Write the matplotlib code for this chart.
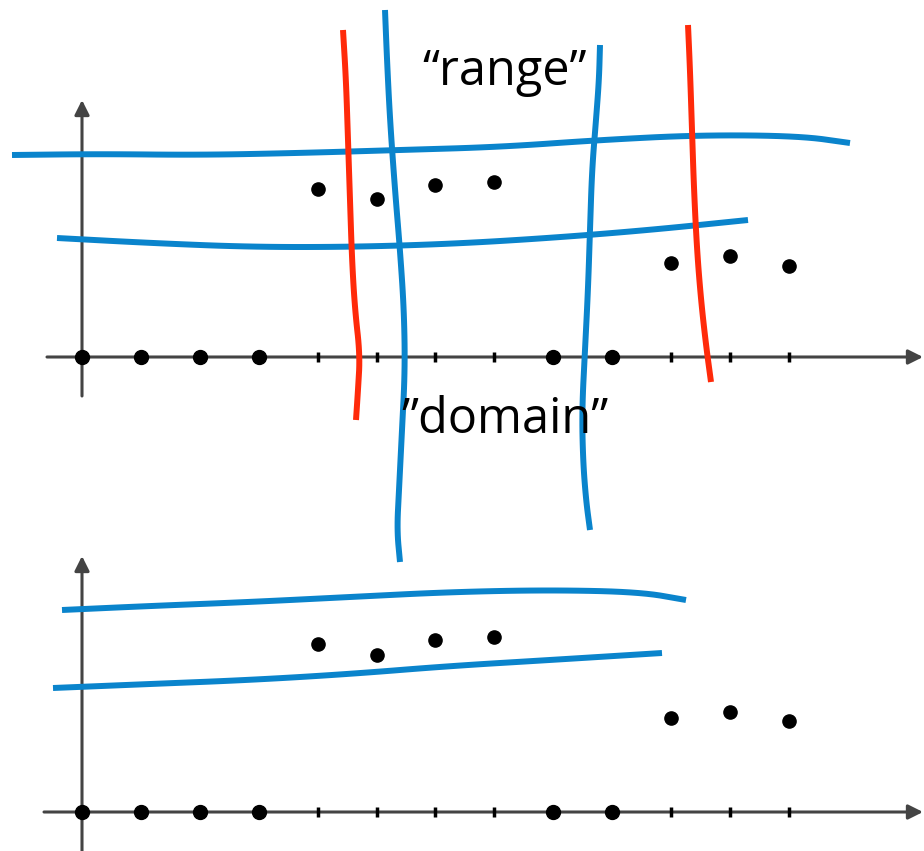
import numpy as np
import matplotlib
matplotlib.use("Agg")
import matplotlib.pyplot as plt

# tick positions along the horizontal axis (pixel space of the sketch)
tick_x = [82, 141, 200, 259, 318, 377, 435, 494, 553, 612, 671, 730, 789]
# which ticks carry a dot on the axis
axis_dot_x = [82, 141, 200, 259, 553, 612]

# points above the axis
pt_x = [318, 377, 435, 494, 671, 730, 789]
top_pt_y = [189, 199, 185, 182, 263, 256, 266]
bot_pt_y = [644, 655, 640, 637, 718, 712, 721]

top_axis_y = 357
bot_axis_y = 812

# hand drawn strokes (x, y) in sketch pixels
top_blue_upper = ([12, 100, 200, 300, 400, 500, 600, 700, 800, 850],
                  [155, 154, 155, 153, 150, 147, 140, 135, 136, 143])
top_blue_lower = ([57, 150, 250, 350, 450, 550, 650, 748],
                  [238, 243, 247, 247, 244, 238, 230, 220])
blue_vert_left = ([385, 387, 390, 395, 400, 404, 405, 402, 399, 397, 400],
                  [10, 60, 120, 190, 250, 310, 370, 430, 490, 530, 562])
blue_vert_right = ([600, 599, 596, 592, 590, 588, 585, 582, 583, 586, 590],
                   [45, 80, 120, 170, 230, 290, 350, 410, 460, 500, 530])
red_left = ([343, 346, 348, 350, 352, 355, 360, 358, 356],
            [30, 80, 140, 200, 260, 310, 355, 390, 420])
red_right = ([688, 690, 692, 694, 697, 701, 706, 711],
             [25, 70, 130, 190, 250, 300, 345, 382])
bot_blue_upper = ([62, 150, 250, 350, 450, 550, 640, 686],
                  [610, 606, 602, 597, 592, 590, 592, 600])
bot_blue_lower = ([53, 150, 250, 350, 450, 550, 662],
                  [688, 684, 680, 674, 666, 660, 653])

label_range = "\u201crange\u201d"
label_domain = "\u201ddomain\u201d"

BLUE = "#0a84cc"
RED = "#ff2a0a"
GREY = "#444444"


def smooth(xs, ys, rounds=3):
    # chaikin corner cutting so the strokes look hand drawn, not jagged
    p = np.column_stack([xs, ys]).astype(float)
    for _ in range(rounds):
        q = 0.75 * p[:-1] + 0.25 * p[1:]
        r = 0.25 * p[:-1] + 0.75 * p[1:]
        mid = np.empty((2 * len(q), 2))
        mid[0::2] = q
        mid[1::2] = r
        p = np.vstack([p[:1], mid, p[-1:]])
    return p[:, 0], p[:, 1]


fig = plt.figure(figsize=(9.24, 8.51), dpi=100)
ax = fig.add_axes([0, 0, 1, 1])
ax.set_xlim(0, 924)
ax.set_ylim(851, 0)
ax.axis("off")


def draw_axes(axis_y, y_top, y_bottom, x_left):
    # vertical axis with arrow
    ax.annotate("", xy=(82, y_top), xytext=(82, y_bottom),
                arrowprops=dict(arrowstyle="-|>", color=GREY, lw=2.2,
                                mutation_scale=22, shrinkA=0, shrinkB=0), zorder=2)
    # horizontal axis with arrow
    ax.annotate("", xy=(923, axis_y), xytext=(x_left, axis_y),
                arrowprops=dict(arrowstyle="-|>", color=GREY, lw=2.2,
                                mutation_scale=22, shrinkA=0, shrinkB=0), zorder=2)
    ax.plot(tick_x, [axis_y] * len(tick_x), linestyle="none", marker="|",
            markersize=7, markeredgewidth=2.5, color="black", zorder=3)
    ax.plot(axis_dot_x, [axis_y] * len(axis_dot_x), "o", color="black",
            markersize=10, zorder=4)


draw_axes(top_axis_y, 100, 396, 47)
draw_axes(bot_axis_y, 556, 860, 44)

ax.plot(pt_x, top_pt_y, "o", color="black", markersize=9.5, zorder=4)
ax.plot(pt_x, bot_pt_y, "o", color="black", markersize=9.5, zorder=4)

for xs, ys in [top_blue_upper, top_blue_lower, bot_blue_upper, bot_blue_lower]:
    sx, sy = smooth(xs, ys)
    ax.plot(sx, sy, color=BLUE, lw=4.3, solid_capstyle="butt", zorder=5)
for xs, ys in [red_left, red_right]:
    sx, sy = smooth(xs, ys)
    ax.plot(sx, sy, color=RED, lw=4.3, solid_capstyle="butt", zorder=6)
for xs, ys in [blue_vert_left, blue_vert_right]:
    sx, sy = smooth(xs, ys)
    ax.plot(sx, sy, color=BLUE, lw=4.3, solid_capstyle="butt", zorder=7)

ax.text(505, 72, label_range, fontsize=35, family="Open Sans",
        ha="center", va="center", zorder=8)
ax.text(505, 420, label_domain, fontsize=35, family="Open Sans",
        ha="center", va="center", zorder=8)

fig.savefig("out.png", dpi=100)
